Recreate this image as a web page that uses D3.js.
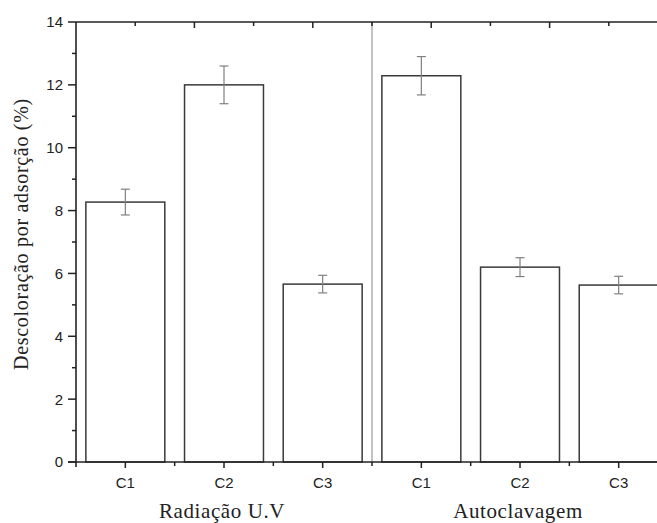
<!DOCTYPE html>
<html>
<head>
<meta charset="utf-8">
<script src="https://cdn.jsdelivr.net/npm/d3@7"></script>
<style>
  html, body { margin: 0; padding: 0; background: #fff; }
  svg { display: block; }
</style>
</head>
<body>
<svg id="chart" width="657" height="523"></svg>
<script>
// ---- data ----
const categories = ["C1", "C2", "C3", "C1", "C2", "C3"];
const groups = ["Radiação U.V", "Autoclavagem"];
const groupOf = [0, 0, 0, 1, 1, 1];
const values = [8.27, 12.0, 5.66, 12.29, 6.2, 5.63];
const errors = [0.41, 0.6, 0.28, 0.61, 0.3, 0.28];
const yTicks = [0, 2, 4, 6, 8, 10, 12, 14];
const yLabel = "Descoloração por adsorção (%)";

// ---- layout ----
const svg = d3.select("#chart");
const plotLeft = 76, plotTop = 22, plotBottom = 462, bandW = 98.67;
const ids = categories.map((c, i) => i);

const x = d3.scaleBand().domain(ids).range([plotLeft, plotLeft + bandW * 6]).paddingInner(0.2).paddingOuter(0.1);
const y = d3.scaleLinear().domain([0, 14]).range([plotBottom, plotTop]);
const xTop = d3.scaleLinear().domain([0, 10]).range([plotLeft, plotLeft + bandW * 6]);
const axisColor = "#222";
const sansFont = "'Liberation Sans', Arial, sans-serif";
const serifFont = "'Liberation Serif', 'Times New Roman', serif";

// bars
svg.append("g").selectAll("rect").data(ids).join("rect")
  .attr("x", i => x(i))
  .attr("y", i => y(values[i]))
  .attr("width", x.bandwidth())
  .attr("height", i => y(0) - y(values[i]))
  .attr("fill", "#fff")
  .attr("stroke", "#3a3a3a")
  .attr("stroke-width", 1.5);

// group separator
const sepX = plotLeft + bandW * 3;
svg.append("line")
  .attr("x1", sepX).attr("x2", sepX)
  .attr("y1", y(14)).attr("y2", y(0))
  .attr("stroke", "#999").attr("stroke-width", 1.2);

// error bars
const eg = svg.append("g").attr("stroke", "#808080").attr("stroke-width", 1.2);
ids.forEach(i => {
  const cx = x(i) + x.bandwidth() / 2;
  eg.append("line").attr("x1", cx).attr("x2", cx).attr("y1", y(values[i] + errors[i])).attr("y2", y(values[i] - errors[i]));
  [values[i] + errors[i], values[i] - errors[i]].forEach(v => {
    eg.append("line").attr("x1", cx - 4.5).attr("x2", cx + 4.5).attr("y1", y(v)).attr("y2", y(v));
  });
});

// y axis
const yMinor = d3.range(1, 14, 2);
const yAx = svg.append("g").attr("stroke", axisColor);
yAx.append("line").attr("x1", plotLeft).attr("x2", plotLeft).attr("y1", y(14)).attr("y2", y(0) + 5).attr("stroke-width", 1.6);
yTicks.forEach(t => {
  yAx.append("line").attr("x1", plotLeft - 8).attr("x2", plotLeft).attr("y1", y(t)).attr("y2", y(t)).attr("stroke-width", 1.5);
});
yMinor.forEach(t => {
  yAx.append("line").attr("x1", plotLeft - 4).attr("x2", plotLeft).attr("y1", y(t)).attr("y2", y(t)).attr("stroke-width", 1.5);
});
svg.append("g").selectAll("text").data(yTicks).join("text")
  .attr("x", plotLeft - 13).attr("y", d => y(d)).attr("dy", "0.36em")
  .attr("text-anchor", "end")
  .style("font-family", sansFont)
  .style("font-size", "15px").attr("fill", "#222")
  .text(d => d);

// bottom axis
const bAx = svg.append("g").attr("stroke", axisColor);
bAx.append("line").attr("x1", plotLeft - 8).attr("x2", 657).attr("y1", y(0)).attr("y2", y(0)).attr("stroke-width", 1.6);
ids.forEach(i => {
  const cx = x(i) + x.bandwidth() / 2;
  bAx.append("line").attr("x1", cx).attr("x2", cx).attr("y1", y(0)).attr("y2", y(0) + 6).attr("stroke-width", 1.5);
  const bx = plotLeft + bandW * (i + 1);
  bAx.append("line").attr("x1", bx).attr("x2", bx).attr("y1", y(0)).attr("y2", y(0) + 4).attr("stroke-width", 1.5);
});
svg.append("g").selectAll("text").data(ids).join("text")
  .attr("x", i => x(i) + x.bandwidth() / 2).attr("y", 488)
  .attr("text-anchor", "middle")
  .style("font-family", sansFont)
  .style("font-size", "15px").attr("fill", "#222")
  .text(i => categories[i]);

// group labels
svg.append("g").selectAll("text").data(groups).join("text")
  .attr("x", (g, gi) => {
    const idx = ids.filter(i => groupOf[i] === gi);
    return x(idx[1]) + x.bandwidth() / 2 - 2;
  })
  .attr("y", 518)
  .attr("text-anchor", "middle")
  .style("font-family", serifFont)
  .style("font-size", "21px")
  .style("letter-spacing", "0.6px")
  .attr("fill", "#222")
  .text(d => d);

// top axis
const tAx = svg.append("g").attr("stroke", axisColor);
tAx.append("line").attr("x1", plotLeft).attr("x2", 657).attr("y1", plotTop).attr("y2", plotTop).attr("stroke-width", 1.6);
d3.range(1, 10).forEach(t => {
  const len = t % 2 === 0 ? 6 : 4;
  tAx.append("line").attr("x1", xTop(t)).attr("x2", xTop(t)).attr("y1", plotTop).attr("y2", plotTop + len).attr("stroke-width", 1.5);
});

// y label
svg.append("text")
  .attr("transform", "translate(28,234) rotate(-90)")
  .attr("text-anchor", "middle")
  .style("font-family", serifFont)
  .style("font-size", "20px")
  .style("letter-spacing", "0.7px")
  .attr("fill", "#222")
  .text(yLabel);
</script>
</body>
</html>
